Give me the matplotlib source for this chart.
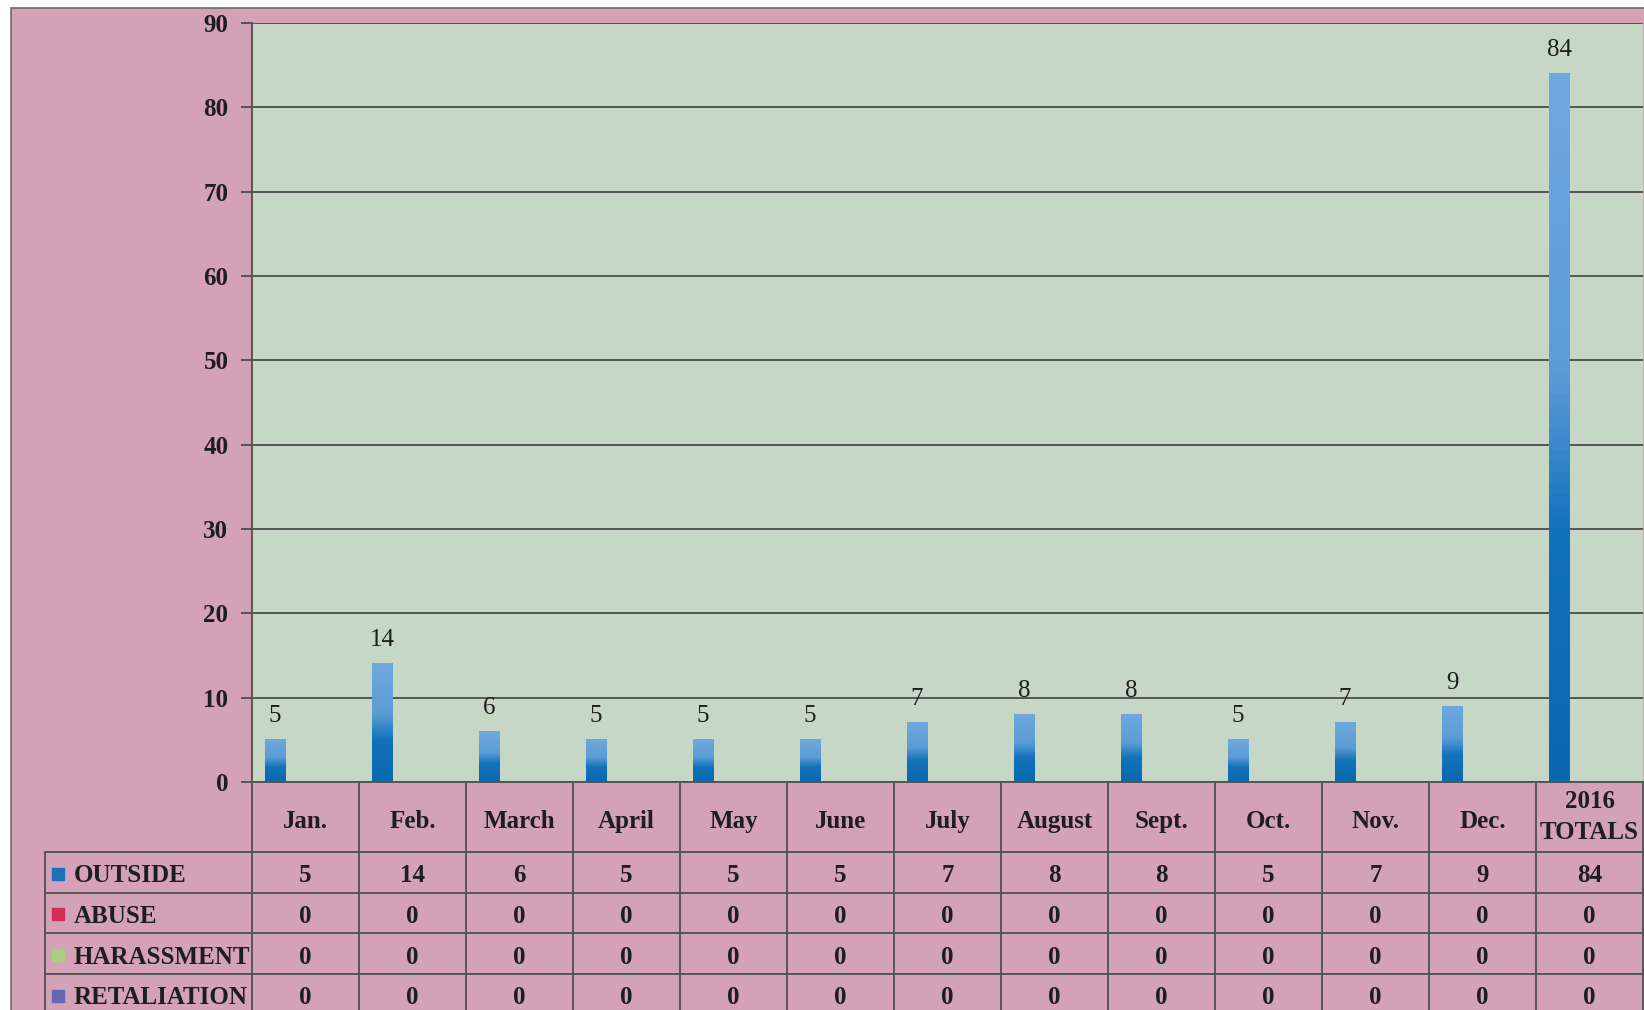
import numpy as np
import matplotlib
matplotlib.use("Agg")
import matplotlib.pyplot as plt
from matplotlib.patches import Rectangle
from matplotlib.colors import LinearSegmentedColormap
from matplotlib.transforms import blended_transform_factory

# Data
categories = ['Jan.', 'Feb.', 'March', 'April', 'May', 'June', 'July',
              'August', 'Sept.', 'Oct.', 'Nov.', 'Dec.', '2016\nTOTALS']
series_names = ['OUTSIDE', 'ABUSE', 'HARASSMENT', 'RETALIATION']
outside = [5, 14, 6, 5, 5, 5, 7, 8, 8, 5, 7, 9, 84]
abuse = [0, 0, 0, 0, 0, 0, 0, 0, 0, 0, 0, 0, 0]
harassment = [0, 0, 0, 0, 0, 0, 0, 0, 0, 0, 0, 0, 0]
retaliation = [0, 0, 0, 0, 0, 0, 0, 0, 0, 0, 0, 0, 0]
yticks = [0, 10, 20, 30, 40, 50, 60, 70, 80, 90]

series = [outside, abuse, harassment, retaliation]
key_colors = ['#1a72b8', '#d0305a', '#a9cf7c', '#6268b4']

W, H = 1644, 1010
PINK = '#d3a2b6'
PLOT_BG = '#c6d7c5'
LINE = '#555555'
TXT = '#1e1e1e'
FS = 18
FONT = ['Liberation Serif', 'DejaVu Serif']
plt.rcParams['font.family'] = FONT

fig = plt.figure(figsize=(W / 100, H / 100), dpi=100)
fig.patch.set_facecolor('white')

# pink chart area (runs off the bottom and right like the scan)
fig.patches.append(Rectangle((11 / W, -0.05), 1.0, (H - 8) / H + 0.05, transform=fig.transFigure,
                             facecolor=PINK, edgecolor='#6a6a6a', lw=1.2, zorder=-10))

# plot area in pixels
left, right, top, base = 252, 1643, 23, 782
ax = fig.add_axes([left / W, (H - base) / H, (right - left) / W, (base - top) / H])
ax.set_facecolor(PLOT_BG)

n = len(categories)
x = np.arange(n)
bw = 0.19
cmap = LinearSegmentedColormap.from_list('bar', [(0, '#0b68ae'), (0.35, '#1272ba'),
                                                 (0.58, '#5c9cd6'), (1, '#6fa8de')])
grad = np.linspace(0, 1, 64).reshape(-1, 1)
for i, vals in enumerate(series):
    bars = ax.bar(x + (i - 1.5) * bw, vals, width=bw, color='none', zorder=3)
    for b, v in zip(bars, vals):
        if v <= 0:
            continue
        x0, w, h = b.get_x(), b.get_width(), b.get_height()
        ax.imshow(grad, extent=[x0, x0 + w, 0, h], origin='lower', aspect='auto',
                  cmap=cmap, zorder=3)
        ax.annotate(f'{v}', (x0 + w / 2, h), xytext=(0, 9), textcoords='offset points',
                    ha='center', va='bottom', fontsize=FS, color=TXT)

ax.set_xlim(-0.5, n - 0.5)
ax.set_ylim(0, 90)
ax.set_yticks(yticks)
ax.set_xticks([])
ax.yaxis.grid(True, color=LINE, lw=1.4)
ax.set_axisbelow(True)
ax.tick_params(axis='y', length=8, width=1.4, color=LINE, pad=9,
               labelsize=FS, labelcolor=TXT)
for t in ax.get_yticklabels():
    t.set_fontweight('bold')
for s in ['top', 'right']:
    ax.spines[s].set_visible(False)
ax.spines['left'].set_color(LINE)
ax.spines['left'].set_linewidth(1.4)
ax.spines['bottom'].set_color(LINE)
ax.spines['bottom'].set_linewidth(1.4)

# data table below the plot
tr = blended_transform_factory(ax.transData, fig.transFigure)
def fy(py):
    return (H - py) / H

row_edges = [782, 852, 893, 933, 974, 1015]
label_left = -0.5 - (left - 45) / ((right - left) / n)

# horizontal lines
for py in row_edges[1:]:
    ax.plot([label_left, n - 0.5], [fy(py)] * 2, transform=tr, color=LINE, lw=1.4,
            clip_on=False, zorder=5)
# vertical lines
for xe in np.arange(n + 1) - 0.5:
    ax.plot([xe, xe], [fy(782), fy(1015)], transform=tr, color=LINE, lw=1.4,
            clip_on=False, zorder=5)
ax.plot([label_left, label_left], [fy(852), fy(1015)], transform=tr, color=LINE, lw=1.4,
        clip_on=False, zorder=5)

# header labels
for xi, cat in zip(x, categories):
    multi = '\n' in cat
    ax.text(xi, fy(817 if multi else 819), cat, transform=tr, ha='center',
            va='center' if multi else 'center_baseline',
            fontsize=FS, fontweight='bold', color=TXT, linespacing=1.4)

# rows
for r, (name, vals) in enumerate(zip(series_names, series)):
    yc = fy((row_edges[r + 1] + row_edges[r + 2]) / 2 + 1)
    ax.scatter([label_left + 0.12], [yc], transform=tr, marker='s', s=85,
               color=key_colors[r], clip_on=False, zorder=6)
    ax.text(label_left + 0.265, yc, name, transform=tr, ha='left', va='center_baseline',
            fontsize=FS, fontweight='bold', color=TXT)
    for xi, v in zip(x, vals):
        ax.text(xi, yc, f'{v}', transform=tr, ha='center', va='center_baseline',
                fontsize=FS, fontweight='bold', color=TXT)

fig.savefig('out.png', dpi=100, facecolor=fig.get_facecolor())
